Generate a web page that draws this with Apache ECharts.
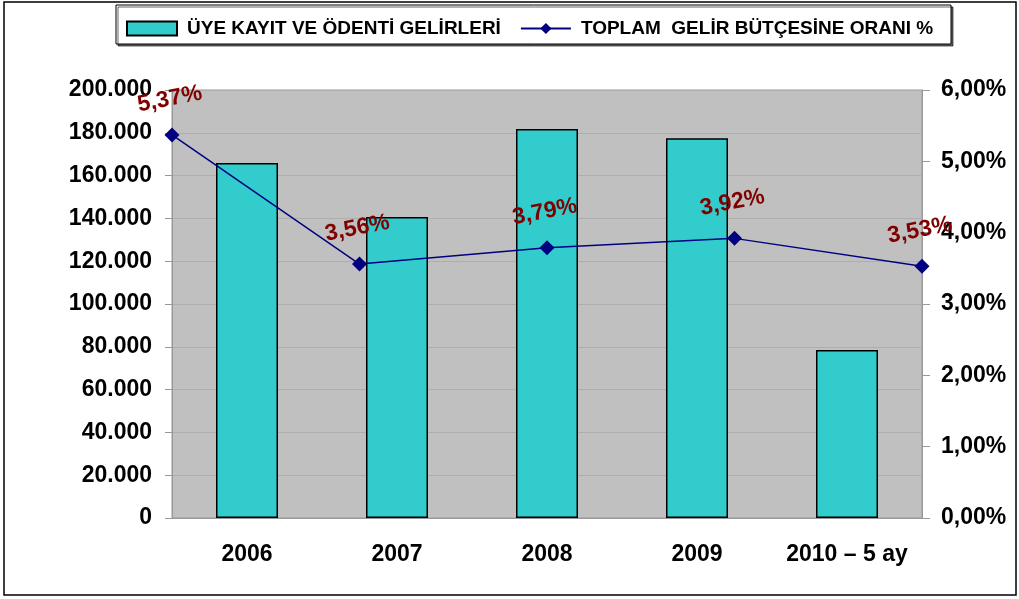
<!DOCTYPE html>
<html>
<head>
<meta charset="utf-8">
<script src="https://cdn.jsdelivr.net/npm/echarts@6/dist/echarts.min.js"></script>
<style>
  html, body { margin: 0; padding: 0; background: #fff; }
  #main { width: 1019px; height: 599px; }
</style>
</head>
<body>
<div id="main"></div>
<script>
var years = ['2006', '2007', '2008', '2009', '2010 – 5 ay'];
var gelir = [165900, 140700, 181800, 177500, 78500];
var oran = [5.37, 3.56, 3.79, 3.92, 3.53];
var leftTicks = [0, 200000, 20000];
var rightTicks = [0, 6, 1];

var font = 'Arial, "Liberation Sans", sans-serif';

function dotted(v) {
    return String(v).replace(/\B(?=(\d{3})+(?!\d))/g, '.');
}
function pct(v) {
    return v.toFixed(2).replace('.', ',') + '%';
}

var myChart = echarts.init(document.getElementById('main'));
var option = {
    animation: false,
    backgroundColor: '#fff',
    graphic: [
        {
            type: 'rect',
            shape: { x: 4, y: 2, width: 1012, height: 593 },
            style: { fill: 'none', stroke: '#000', lineWidth: 1.5 }
        },
        {
            type: 'rect',
            shape: { x: 116, y: 5, width: 835, height: 39 },
            style: {
                fill: '#fff', stroke: '#000', lineWidth: 1,
                shadowColor: 'rgba(0,0,0,0.6)', shadowOffsetX: 2, shadowOffsetY: 2
            },
            z: -1
        }
    ],
    legend: {
        left: 121,
        top: 14,
        itemWidth: 50,
        itemHeight: 14,
        itemGap: 19,
        textStyle: {
            fontFamily: font,
            fontWeight: 'bold',
            fontSize: 19,
            color: '#000',
            padding: [0, 0, 0, 5]
        },
        data: [
            { name: 'ÜYE KAYIT VE ÖDENTİ GELİRLERİ', icon: 'rect' },
            { name: 'TOPLAM  GELİR BÜTÇESİNE ORANI %' }
        ]
    },
    grid: {
        left: 172,
        right: 97,
        top: 90,
        bottom: 81,
        show: true,
        backgroundColor: '#C0C0C0',
        borderColor: '#999',
        borderWidth: 1
    },
    xAxis: [
        {
            type: 'category',
            data: years,
            boundaryGap: true,
            axisLine: { lineStyle: { color: '#999', width: 1 } },
            axisTick: { length: 8, lineStyle: { color: '#999' } },
            axisLabel: {
                interval: 0,
                margin: 25,
                fontFamily: font,
                fontWeight: 'bold',
                fontSize: 23,
                color: '#000'
            }
        },
        {
            type: 'category',
            data: years,
            boundaryGap: false,
            show: false
        }
    ],
    yAxis: [
        {
            type: 'value',
            min: leftTicks[0],
            max: leftTicks[1],
            interval: leftTicks[2],
            axisLine: { show: true, lineStyle: { color: '#999' } },
            axisTick: { show: true, length: 7, lineStyle: { color: '#999' } },
            splitLine: { lineStyle: { color: '#AEAEAE', width: 1 } },
            axisLabel: {
                margin: 20,
                fontFamily: font,
                fontWeight: 'bold',
                fontSize: 23,
                color: '#000',
                formatter: dotted
            }
        },
        {
            type: 'value',
            min: rightTicks[0],
            max: rightTicks[1],
            interval: rightTicks[2],
            position: 'right',
            axisLine: { show: true, lineStyle: { color: '#999' } },
            axisTick: { show: true, length: 8, lineStyle: { color: '#999' } },
            splitLine: { show: false },
            axisLabel: {
                margin: 19,
                fontFamily: font,
                fontWeight: 'bold',
                fontSize: 23,
                color: '#000',
                formatter: pct
            }
        }
    ],
    series: [
        {
            name: 'ÜYE KAYIT VE ÖDENTİ GELİRLERİ',
            type: 'bar',
            barWidth: 62,
            itemStyle: {
                color: '#33CCCC',
                borderColor: '#000',
                borderWidth: 1.5
            },
            data: gelir
        },
        {
            name: 'TOPLAM  GELİR BÜTÇESİNE ORANI %',
            type: 'line',
            xAxisIndex: 1,
            yAxisIndex: 1,
            symbol: 'diamond',
            symbolSize: 15,
            lineStyle: { color: '#000080', width: 1.5 },
            itemStyle: { color: '#000080' },
            label: {
                show: true,
                position: 'top',
                distance: 17,
                rotate: 11,
                fontFamily: font,
                fontWeight: 'bold',
                fontSize: 23,
                color: '#800000',
                formatter: function (p) { return pct(p.value); }
            },
            data: oran
        }
    ]
};
myChart.setOption(option);
</script>
</body>
</html>
